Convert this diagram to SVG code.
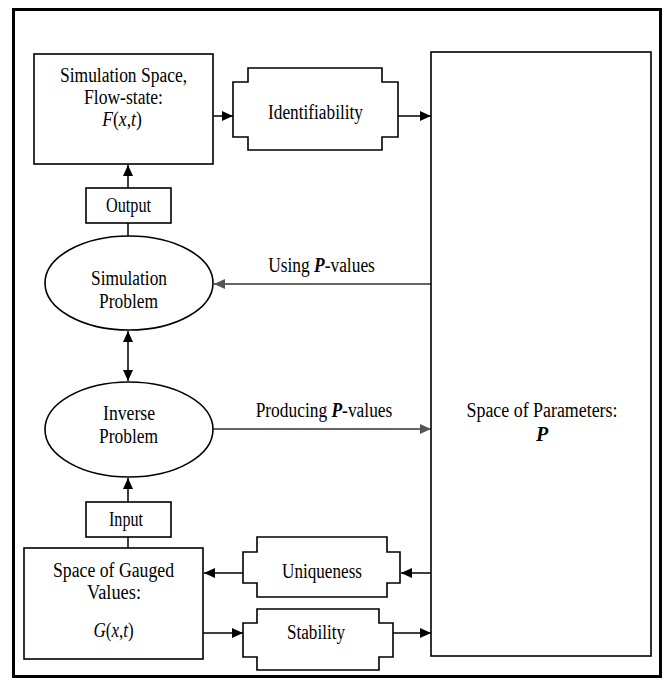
<svg xmlns="http://www.w3.org/2000/svg" width="669" height="684" viewBox="0 0 669 684">
<style>
.box{fill:#fff;stroke:#000;stroke-width:1.6}
.frame{fill:#fff;stroke:#000;stroke-width:3}
.t{font-family:"Liberation Serif","Times New Roman",serif;font-size:20px;fill:#000;text-anchor:middle}
.i{font-style:italic}
.bi{font-style:italic;font-weight:bold}
.c{fill:none;stroke:#000;stroke-width:1.5}
.g{stroke:#333}
</style>
<defs>
<marker id="ah" markerUnits="userSpaceOnUse" markerWidth="12" markerHeight="12" refX="11" refY="6" orient="auto-start-reverse" viewBox="0 0 12 12">
<path d="M0,1 L11,6 L0,11 z" fill="#000"/>
</marker>
<marker id="ahg" markerUnits="userSpaceOnUse" markerWidth="12" markerHeight="12" refX="11" refY="6" orient="auto" viewBox="0 0 12 12">
<path d="M0,1 L11,6 L0,11 z" fill="#555"/>
</marker>
</defs>
<rect class="frame" x="13.5" y="9.5" width="647" height="667"/>

<g id="connectors">
<line class="c" x1="128" y1="188" x2="128" y2="165" marker-end="url(#ah)"/>
<line class="c" x1="128" y1="236" x2="128" y2="223"/>
<line class="c" x1="128" y1="331" x2="128" y2="381" marker-start="url(#ah)" marker-end="url(#ah)"/>
<line class="c" x1="128" y1="502" x2="128" y2="478" marker-end="url(#ah)"/>
<line class="c" x1="128" y1="537" x2="128" y2="548"/>
<line class="c" x1="213" y1="116" x2="233" y2="116" marker-end="url(#ah)"/>
<line class="c" x1="398" y1="116" x2="431" y2="116" marker-end="url(#ah)"/>
<line class="c g" x1="431" y1="284" x2="214" y2="284" marker-end="url(#ahg)"/>
<line class="c g" x1="213" y1="429" x2="431" y2="429" marker-end="url(#ahg)"/>
<line class="c" x1="431" y1="573" x2="401" y2="573" marker-end="url(#ah)"/>
<line class="c" x1="243" y1="573" x2="204" y2="573" marker-end="url(#ah)"/>
<line class="c" x1="203" y1="633" x2="243" y2="633" marker-end="url(#ah)"/>
<line class="c" x1="393" y1="633" x2="431" y2="633" marker-end="url(#ah)"/>
<text class="t" transform="translate(321.5,272) scale(0.87,1)">Using <tspan class="bi">P</tspan>-values</text>
<text class="t" transform="translate(324,417) scale(0.87,1)">Producing <tspan class="bi">P</tspan>-values</text>
</g>

<g id="sim-space">
<rect class="box" x="34" y="54" width="179" height="110"/>
<text class="t" x="123.5" y="82" textLength="127" lengthAdjust="spacingAndGlyphs">Simulation Space,</text>
<text class="t" x="123.5" y="104" textLength="79" lengthAdjust="spacingAndGlyphs">Flow-state:</text>
<text class="t" transform="translate(122,126) scale(0.88,1)"><tspan class="i">F</tspan>(<tspan class="i">x</tspan>,<tspan class="i">t</tspan>)</text>
</g>

<g id="identifiability">
<path class="box" d="M248,68 H382 V82 H398 V137 H382 V150 H248 V137 H233 V82 H248 Z"/>
<text class="t" x="315.5" y="119" textLength="95" lengthAdjust="spacingAndGlyphs">Identifiability</text>
</g>

<g id="parameters">
<rect class="box" x="431" y="52" width="220" height="604"/>
<text class="t" x="542" y="417" textLength="151" lengthAdjust="spacingAndGlyphs">Space of Parameters:</text>
<text class="t bi" x="542" y="441">P</text>
</g>

<g id="output">
<rect class="box" x="86" y="188" width="85" height="35"/>
<text class="t" x="128.5" y="212" textLength="45" lengthAdjust="spacingAndGlyphs">Output</text>
</g>

<g id="simulation-problem">
<ellipse class="box" cx="129" cy="283" rx="84" ry="47"/>
<text class="t" x="129" y="285" textLength="76" lengthAdjust="spacingAndGlyphs">Simulation</text>
<text class="t" x="128.5" y="308" textLength="59" lengthAdjust="spacingAndGlyphs">Problem</text>
</g>

<g id="inverse-problem">
<ellipse class="box" cx="129" cy="429.5" rx="84" ry="47.5"/>
<text class="t" x="129" y="420" textLength="52" lengthAdjust="spacingAndGlyphs">Inverse</text>
<text class="t" x="128.5" y="443" textLength="59" lengthAdjust="spacingAndGlyphs">Problem</text>
</g>

<g id="input">
<rect class="box" x="86" y="502" width="85" height="35"/>
<text class="t" x="126" y="526" textLength="34" lengthAdjust="spacingAndGlyphs">Input</text>
</g>

<g id="gauged-values">
<rect class="box" x="24" y="548" width="179" height="111"/>
<text class="t" x="113.5" y="577" textLength="121" lengthAdjust="spacingAndGlyphs">Space of Gauged</text>
<text class="t" x="114" y="599" textLength="54" lengthAdjust="spacingAndGlyphs">Values:</text>
<text class="t" transform="translate(113.5,637) scale(0.85,1)"><tspan class="i">G</tspan>(<tspan class="i">x</tspan>,<tspan class="i">t</tspan>)</text>
</g>

<g id="uniqueness">
<path class="box" d="M257,537 H387 V552 H400 V583 H387 V597 H257 V583 H243 V552 H257 Z"/>
<text class="t" x="322" y="578" textLength="80" lengthAdjust="spacingAndGlyphs">Uniqueness</text>
</g>

<g id="stability">
<path class="box" d="M257,609 H379 V623 H393 V657 H379 V670 H257 V657 H243 V623 H257 Z"/>
<text class="t" x="316" y="639" textLength="58" lengthAdjust="spacingAndGlyphs">Stability</text>
</g>
</svg>
